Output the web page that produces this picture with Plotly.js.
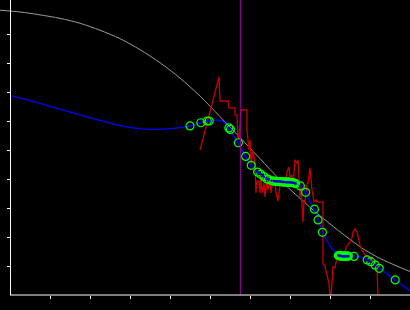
<!DOCTYPE html>
<html>
<head>
<meta charset="utf-8">
<script src="https://cdn.plot.ly/plotly-3.0.1.min.js"></script>
<style>
  html, body { margin: 0; padding: 0; background: #000; }
  #chart { width: 410px; height: 310px; }
</style>
</head>
<body>
<div id="chart"></div>
<script>
// Smooth reference curve (gray)
const curveX = [-0.25, 0.25, 0.75, 1.25, 1.75, 2.25, 2.75, 3.25, 3.75, 4.25, 4.75, 5.25, 5.75, 6.25, 6.75, 7.17, 7.58, 8.0, 8.42, 8.83, 9.25, 9.67, 10.0];
const curveY = [9.82, 9.76, 9.66, 9.54, 9.37, 9.13, 8.84, 8.46, 8.01, 7.48, 6.86, 6.15, 5.43, 4.70, 3.97, 3.43, 2.93, 2.45, 2.00, 1.59, 1.26, 1.00, 0.81];

// Fitted line (blue)
const fitX = [0, 0.75, 1.75, 2.25, 2.75, 3.075, 3.5, 3.925, 4.375, 4.5, 4.75, 4.95, 5.2, 5.325, 5.475, 5.7, 5.89, 6.025, 6.2, 6.4, 6.575, 6.75, 7.0, 7.25, 7.39, 7.5, 7.6, 7.71, 7.81, 7.96, 8.1, 8.25, 8.5, 8.65, 8.92, 9.075, 9.25, 9.625, 10.0];
const fitY = [6.88, 6.61, 6.21, 6.02, 5.84, 5.76, 5.71, 5.73, 5.80, 5.83, 5.94, 6.0, 6.03, 5.98, 5.74, 5.25, 4.78, 4.47, 4.22, 4.03, 3.93, 3.91, 3.88, 3.78, 3.54, 3.22, 2.96, 2.59, 2.16, 1.78, 1.52, 1.36, 1.34, 1.33, 1.23, 1.09, 0.92, 0.52, 0.15];

// Noisy raw signal (red)
const rawX = [4.75, 5.225, 5.25, 5.45, 5.475, 5.625, 5.625, 5.675, 5.7, 5.725, 5.775, 5.925, 5.925, 5.975, 6.0, 6.025, 6.075, 6.125, 6.15, 6.175, 6.225, 6.25, 6.275, 6.3, 6.35, 6.375, 6.425, 6.45, 6.5, 6.525, 6.55, 6.575, 6.625, 6.65, 6.7, 6.75, 6.825, 6.875, 6.925, 6.975, 7.0, 7.05, 7.075, 7.125, 7.175, 7.2, 7.225, 7.25, 7.275, 7.3, 7.325, 7.35, 7.375, 7.425, 7.45, 7.5, 7.525, 7.55, 7.6, 7.65, 7.675, 7.825, 7.825, 7.875, 7.925, 7.975, 8.0, 8.025, 8.05, 8.075, 8.125, 8.175, 8.225, 8.275, 8.35, 8.425, 8.5, 8.55, 8.575, 8.625, 8.675, 8.7, 8.75, 8.8, 8.875, 8.95, 9.05, 9.125, 9.175, 9.2];
const rawY = [5.0, 7.52, 6.69, 6.69, 6.45, 6.45, 6.21, 6.21, 5.41, 5.41, 6.38, 6.38, 5.69, 5.0, 5.34, 4.48, 5.0, 4.55, 3.52, 3.93, 3.93, 3.52, 4.14, 3.52, 3.86, 3.38, 3.90, 3.62, 4.07, 3.52, 3.76, 3.86, 4.03, 3.52, 3.24, 3.79, 3.97, 3.76, 4.24, 4.41, 4.07, 4.14, 3.76, 4.66, 4.55, 4.66, 4.07, 3.38, 3.72, 3.10, 2.52, 3.28, 3.17, 3.86, 3.86, 4.38, 3.86, 3.62, 3.21, 3.28, 3.21, 3.21, 1.07, 1.0, 0.69, 0.38, 0.0, 0.0, 0.41, 0.97, 0.93, 1.31, 1.38, 1.31, 1.41, 1.69, 1.83, 1.97, 2.17, 2.28, 2.17, 1.97, 1.72, 1.55, 1.38, 1.31, 1.21, 1.10, 0.97, 0.0];

// Sample points (green circles)
const ptX = [4.5, 4.77, 4.93, 4.98, 5.47, 5.51, 5.71, 5.89, 6.03, 6.19, 6.27, 6.35, 6.42, 6.46, 6.54,
             6.6, 6.63, 6.66, 6.69, 6.72, 6.75, 6.78, 6.81, 6.84, 6.87, 6.9, 6.93, 6.96, 6.99, 7.02, 7.05, 7.08, 7.11, 7.14,
             7.26, 7.39, 7.61, 7.7, 7.81,
             8.21, 8.235, 8.26, 8.285, 8.31, 8.335, 8.36, 8.385, 8.41, 8.435, 8.46,
             8.6, 8.93, 9.02, 9.13, 9.23, 9.63];
const ptY = [5.83, 5.94, 6.0, 6.0, 5.76, 5.71, 5.25, 4.78, 4.47, 4.24, 4.16, 4.08, 4.0, 3.99, 3.94,
             3.93, 3.92, 3.92, 3.91, 3.91, 3.91, 3.91, 3.9, 3.9, 3.9, 3.89, 3.89, 3.89, 3.89, 3.88, 3.88, 3.87, 3.86, 3.84,
             3.76, 3.54, 2.96, 2.59, 2.16,
             1.36, 1.35, 1.35, 1.34, 1.34, 1.34, 1.34, 1.34, 1.34, 1.34, 1.34,
             1.33, 1.21, 1.15, 1.03, 0.92, 0.52];

// Vertical marker position
const markerX = 5.76;

// Axis ticks
const tickX = [1, 2, 3, 4, 5, 6, 7, 8, 9];
const tickY = [1, 2, 3, 4, 5, 6, 7, 8, 9];

const traces = [
  { x: curveX, y: curveY, mode: 'lines', line: { color: '#9a9a9a', width: 1, shape: 'spline', smoothing: 0.8 }, hoverinfo: 'skip' },
  { x: rawX, y: rawY, mode: 'lines', line: { color: '#c80000', width: 1.3 }, hoverinfo: 'skip' },
  { x: fitX, y: fitY, mode: 'lines', line: { color: '#0000ff', width: 1.3, shape: 'spline', smoothing: 0.6 }, hoverinfo: 'skip' },
  { x: ptX, y: ptY, mode: 'markers', marker: { symbol: 'circle-open', size: 8, color: '#00ff00', line: { color: '#00ff00', width: 1.2 } }, hoverinfo: 'skip' },
  { x: ptX, y: ptY, mode: 'markers', marker: { symbol: 'circle', size: 2.5, color: '#0000cc' }, hoverinfo: 'skip' }
];

const layout = {
  width: 410, height: 310,
  paper_bgcolor: '#000000', plot_bgcolor: '#000000',
  margin: { l: 0, r: 0, t: 0, b: 15, pad: 0 },
  showlegend: false,
  xaxis: {
    range: [-0.25, 10], showgrid: false, zeroline: false, showline: false,
    ticks: 'outside', ticklen: 3, tickwidth: 1, tickcolor: '#ffffff',
    tickvals: tickX, showticklabels: false, fixedrange: true
  },
  yaxis: {
    range: [0, 295 / 29], showgrid: false, zeroline: false,
    anchor: 'free', position: 10 / 410, side: 'left',
    showline: true, linecolor: '#ffffff', linewidth: 1,
    ticks: 'outside', ticklen: 3, tickwidth: 1, tickcolor: '#ffffff',
    tickvals: tickY, showticklabels: false, fixedrange: true
  },
  shapes: [
    { type: 'line', xref: 'x', yref: 'paper', x0: markerX, x1: markerX, y0: 0, y1: 1, line: { color: '#990099', width: 1 }, layer: 'above' },
    { type: 'line', xref: 'x', yref: 'paper', x0: 0, x1: 10, y0: 0, y1: 0, line: { color: '#ffffff', width: 1 }, layer: 'above' }
  ]
};

Plotly.newPlot('chart', traces, layout, { staticPlot: true, displayModeBar: false });
</script>
</body>
</html>
